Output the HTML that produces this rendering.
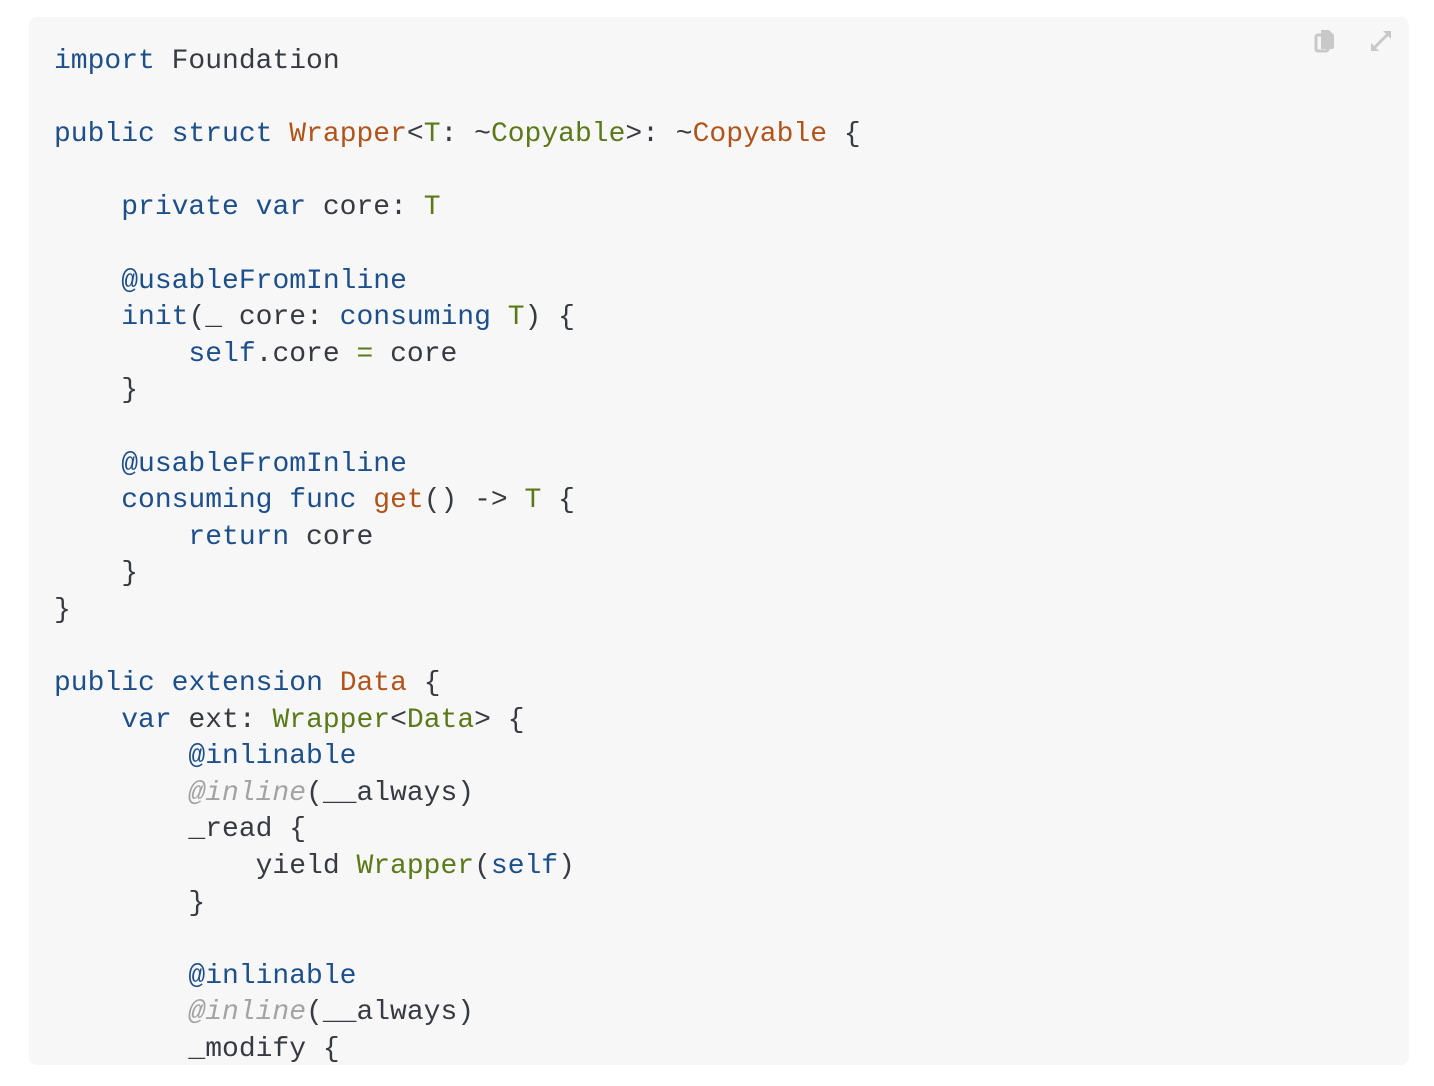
<!DOCTYPE html>
<html><head><meta charset="utf-8"><style>
html,body{margin:0;padding:0;background:#fff;width:1434px;height:1086px;overflow:hidden}
.box{position:absolute;left:29px;top:17px;width:1380px;height:1048px;background:#f7f7f7;border-radius:8px;overflow:hidden}
pre{position:absolute;left:25px;top:27px;margin:0;font-family:"Liberation Mono",monospace;font-size:28px;line-height:36.6px;color:#383a42}
.k{color:#1d4f8a}.o{color:#b0541a}.g{color:#5a7a1a}.i{color:#a3a3a3;font-style:italic}
</style></head><body>
<div class="box">
<pre><span class="k">import</span> Foundation

<span class="k">public</span> <span class="k">struct</span> <span class="o">Wrapper</span>&lt;<span class="g">T</span>: ~<span class="g">Copyable</span>&gt;: ~<span class="o">Copyable</span> {

    <span class="k">private</span> <span class="k">var</span> core: <span class="g">T</span>

    <span class="k">@usableFromInline</span>
    <span class="k">init</span>(_ core: <span class="k">consuming</span> <span class="g">T</span>) {
        <span class="k">self</span>.core <span class="g">=</span> core
    }

    <span class="k">@usableFromInline</span>
    <span class="k">consuming</span> <span class="k">func</span> <span class="o">get</span>() -&gt; <span class="g">T</span> {
        <span class="k">return</span> core
    }
}

<span class="k">public</span> <span class="k">extension</span> <span class="o">Data</span> {
    <span class="k">var</span> ext: <span class="g">Wrapper</span>&lt;<span class="g">Data</span>&gt; {
        <span class="k">@inlinable</span>
        <span class="i">@inline</span>(__always)
        _read {
            yield <span class="g">Wrapper</span>(<span class="k">self</span>)
        }

        <span class="k">@inlinable</span>
        <span class="i">@inline</span>(__always)
        _modify {
</pre>
<svg style="position:absolute;left:1284px;top:10px" width="24" height="28" viewBox="0 0 24 28"><rect x="3" y="8" width="12" height="16" rx="2" fill="none" stroke="#c8c8c8" stroke-width="3"/><path d="M8 3h8l5 5v12a2 2 0 0 1-2 2h-11z" fill="#c8c8c8"/></svg>
<svg style="position:absolute;left:1340px;top:12px" width="24" height="24" viewBox="0 0 24 24"><path d="M3 21L21 3" stroke="#c8c8c8" stroke-width="3"/><path d="M14 2h8v8z M2 14v8h8z" fill="#c8c8c8"/></svg>
</div>
</body></html>
